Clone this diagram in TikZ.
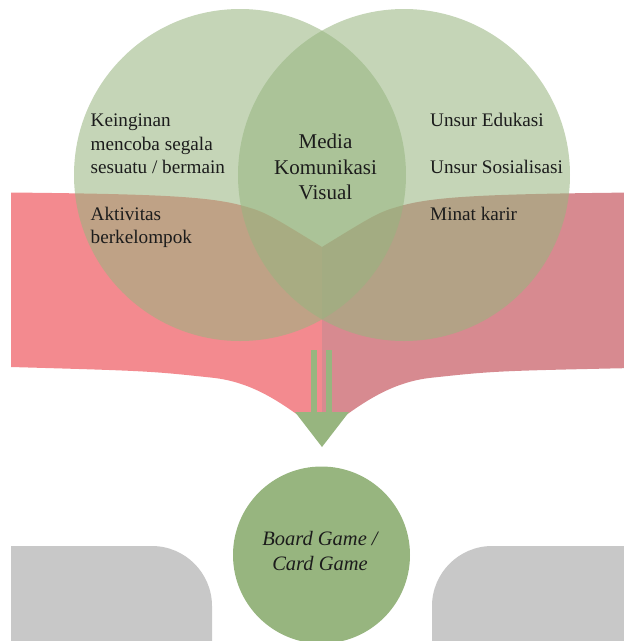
\documentclass[tikz,border=0pt]{standalone}
\usepackage{fontspec}
\setmainfont{Liberation Serif}
\definecolor{vgreen}{HTML}{97B57F}
\definecolor{redL}{HTML}{F38A8F}
\definecolor{redR}{HTML}{D78A90}
\definecolor{gbox}{HTML}{C8C8C8}
\definecolor{txt}{HTML}{1C1C1C}
\begin{document}
\begin{tikzpicture}[x=1pt,y=-1pt,
  sidetext/.style={anchor=base west,inner sep=0pt,text=txt,font=\fontsize{19.2}{23}\selectfont},
  midtext/.style={anchor=base,inner sep=0pt,text=txt,font=\fontsize{21}{25}\selectfont},
  gametext/.style={anchor=base,inner sep=0pt,text=txt,font=\fontsize{20.5}{25}\selectfont\itshape},
  venn/.style={circle,fill=vgreen,fill opacity=0.56,minimum size=332pt,inner sep=0pt},
  arrowfill/.style={fill=vgreen}]
\useasboundingbox (0,0) rectangle (624,641);
\clip (0,0) rectangle (624,641);
% grey shapes
\fill[gbox] (11,700) -- (11,546) -- (152,546) .. controls (185,546) and (212,573) .. (212,606) -- (212,700) -- cycle;
\fill[gbox] (660,700) -- (660,546) -- (492,546) .. controls (459,546) and (432,573) .. (432,606) -- (432,700) -- cycle;
% red converging bands
\fill[redL] (11,192.5) .. controls (150,194) and (205,196) .. (240,205) .. controls (265,212) .. (322,247) -- (322,432) .. controls (292,412) and (262,384) .. (215,378) .. controls (150,371) .. (11,367) -- cycle;
\fill[redR] (633,192.5) .. controls (494,194) and (439,196) .. (404,205) .. controls (379,212) .. (322,247) -- (322,432) .. controls (352,412) and (382,384) .. (429,378) .. controls (494,371) .. (633,368) -- cycle;
% venn circles
\node[venn] (lc) at (240,175) {};
\node[venn] (rc) at (404,175) {};
% arrow
\fill[arrowfill] (311,350) rectangle (317,412);
\fill[arrowfill] (326,350) rectangle (332,412);
\fill[arrowfill] (295,412) -- (349,412) -- (322,447) -- cycle;
% result circle
\node[circle,fill=vgreen,minimum size=177pt,inner sep=0pt] (game) at (321.5,555) {};
% texts
\node[sidetext] (l1) at (90.5,126.7) {Keinginan};
\node[sidetext] (l2) at (90.5,150) {mencoba segala};
\node[sidetext] (l3) at (90.5,173.3) {sesuatu / bermain};
\node[sidetext] (l4) at (90.5,220) {Aktivitas};
\node[sidetext] (l5) at (90.5,243) {berkelompok};
\node[sidetext] (r1) at (430,126.7) {Unsur Edukasi};
\node[sidetext] (r2) at (430,173.3) {Unsur Sosialisasi};
\node[sidetext] (r3) at (430,220) {Minat karir};
\node[midtext] (m1) at (325.5,148.3) {Media};
\node[midtext] (m2) at (325.5,174.3) {Komunikasi};
\node[midtext] (m3) at (325.5,199.3) {Visual};
\node[gametext] (g1) at (320,545) {Board Game /};
\node[gametext] (g2) at (320,570) {Card Game};
\end{tikzpicture}
\end{document}
